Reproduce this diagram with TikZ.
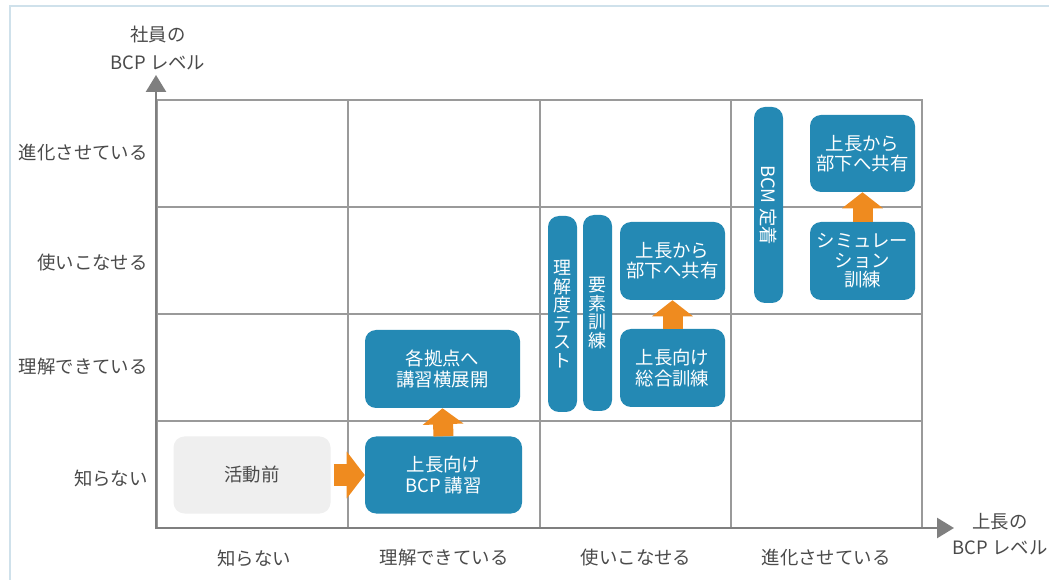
\documentclass[tikz,border=0pt]{standalone}
\usepackage{fontspec}
\setmainfont{Noto Sans CJK JP}
\usetikzlibrary{arrows.meta}
\definecolor{boxblue}{HTML}{2489B4}
\definecolor{boxgrey}{HTML}{EFEFEF}
\definecolor{arrorange}{HTML}{EF8B1F}
\definecolor{axisgrey}{HTML}{7F7F7F}
\definecolor{gridgrey}{HTML}{9A9A9A}
\definecolor{labelgrey}{HTML}{4A4A4A}
\definecolor{framblue}{HTML}{CFE1EB}
\def\pxu{0.75pt}
\tikzset{
  bluebox/.style={rectangle, rounded corners=11*\pxu, fill=boxblue, text=white, inner sep=0pt, align=center, font=\fontsize{13.8}{15.2}\selectfont},
  greybox/.style={rectangle, rounded corners=11*\pxu, fill=boxgrey, text=labelgrey, inner sep=0pt, align=center, font=\fontsize{13.8}{15.2}\selectfont},
  vbar/.style={bluebox, font=\fontsize{13.5}{13.9}\selectfont},
  lbl/.style={text=labelgrey, inner sep=0pt, font=\fontsize{13.8}{15}\selectfont},
  gridline/.style={draw=gridgrey, line width=1.1pt},
  axisline/.style={draw=axisgrey, line width=1.9pt, -{Triangle[length=17*\pxu, width=20*\pxu]}},
  uparrow/.style={draw=arrorange, line width=20*\pxu, -{Triangle[length=16*\pxu, width=40*\pxu]}},
  rarrow/.style={draw=arrorange, line width=22*\pxu, -{Triangle[length=18*\pxu, width=46*\pxu]}},
  frameline/.style={draw=framblue, line width=2.2pt}
}
\begin{document}
\begin{tikzpicture}[x=0.75pt,y=-0.75pt]
\useasboundingbox (0,0) rectangle (1049,580);
\fill[white] (0,0) rectangle (1049,580);
\draw[frameline] (10,580) -- (10,6) -- (1049,6);

% grid
\draw[gridline] (157,100) rectangle (922,528);
\foreach \gx in {348,540,731} \draw[gridline] (\gx,100) -- (\gx,528);
\foreach \gy in {207,314,421} \draw[gridline] (157,\gy) -- (922,\gy);

% axes
\coordinate (O) at (156,529);
\coordinate (Ytip) at (156,75);
\coordinate (Xtip) at (954,528);
\coordinate (Xo) at (155,528);
\draw[axisline] (O) -- (Ytip);
\draw[axisline] (Xo) -- (Xtip);

% axis titles
\node[lbl, align=center, font=\fontsize{13.8}{21}\selectfont] (ytitle) at (158,48) {社員の\\BCP レベル};
\node[lbl, align=center, font=\fontsize{13.8}{19}\selectfont] (xtitle) at (1000,534) {上長の\\BCP レベル};

% row labels
\node[lbl, anchor=east] (r4) at (148,153) {進化させている};
\node[lbl, anchor=east] (r3) at (148,263) {使いこなせる};
\node[lbl, anchor=east] (r2) at (148,367) {理解できている};
\node[lbl, anchor=east] (r1) at (148,478) {知らない};

% column labels
\node[lbl] (c1) at (254,558) {知らない};
\node[lbl] (c2) at (444,558) {理解できている};
\node[lbl] (c3) at (636,558) {使いこなせる};
\node[lbl] (c4) at (826,558) {進化させている};

% boxes
\node[greybox, minimum width=157*\pxu, minimum height=77*\pxu] (pre) at (252,475) {活動前};
\node[bluebox, minimum width=157*\pxu, minimum height=77*\pxu] (bcp) at (443.5,475) {上長向け\\BCP 講習};
\node[bluebox, minimum width=155*\pxu, minimum height=78*\pxu] (kyoten) at (442.5,369) {各拠点へ\\講習横展開};

\node[vbar, minimum width=29*\pxu, minimum height=196*\pxu] (rikai) at (562.5,314) {理\\解\\度\\テ\\ス\\ト};
\node[vbar, minimum width=29*\pxu, minimum height=196*\pxu] (yoso) at (597.5,313) {要\\素\\訓\\練};
\node[bluebox, minimum width=105*\pxu, minimum height=78*\pxu] (kyoyu1) at (672.5,261) {上長から\\部下へ共有};
\node[bluebox, minimum width=105*\pxu, minimum height=78*\pxu] (sogo) at (672.5,368) {上長向け\\総合訓練};

\node[bluebox, rotate=-90, minimum width=196*\pxu, minimum height=29*\pxu] (bcm) at (768.5,205) {BCM 定着};
\node[bluebox, minimum width=105*\pxu, minimum height=77*\pxu] (kyoyu2) at (862.5,153.5) {上長から\\部下へ共有};
\node[bluebox, minimum width=105*\pxu, minimum height=78*\pxu, font=\fontsize{13.8}{14.6}\selectfont] (sim) at (862.5,261) {シミュレー\\ション\\訓練};

% arrows
\draw[rarrow] ([xshift=3*\pxu]pre.east) -- (bcp.west);
\draw[uparrow] (bcp.north) -- (kyoten.south);
\draw[uparrow] (sogo.north) -- (kyoyu1.south);
\draw[uparrow] (sim.north) -- (kyoyu2.south);
\end{tikzpicture}
\end{document}
